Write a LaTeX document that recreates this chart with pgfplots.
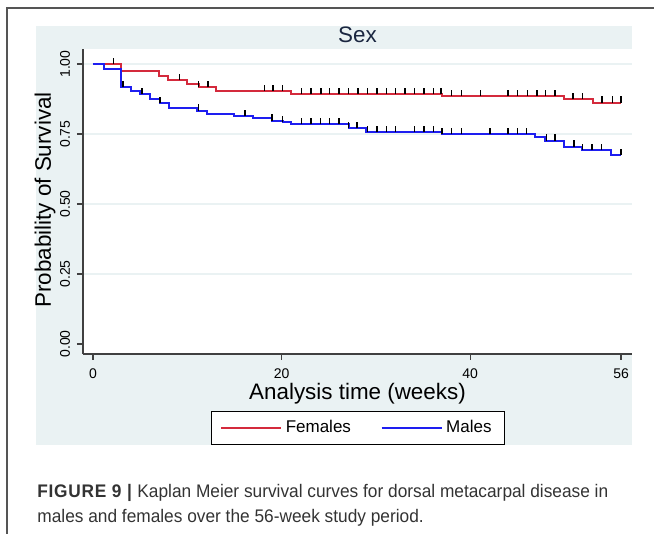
\documentclass[border=0pt]{standalone}
\usepackage{fontspec}
\setmainfont{Liberation Sans}
\newfontfamily\capfont[FakeStretch=0.95]{Liberation Sans}
\usepackage{pgfplots}
\pgfplotsset{compat=1.18}

\definecolor{bgreg}{HTML}{EAF2F3}
\definecolor{kmred}{HTML}{D42A3C}
\definecolor{kmblue}{HTML}{1E1EF0}
\definecolor{framegray}{HTML}{555555}
\definecolor{capgray}{HTML}{333333}
\definecolor{titlecol}{HTML}{1A2640}

% censoring tick: short vertical stroke above the curve
\pgfdeclareplotmark{cens}{%
  \pgfpathmoveto{\pgfpointorigin}%
  \pgfpathlineto{\pgfpoint{0pt}{3.2pt}}%
  \pgfusepathqstroke}

\begin{document}
\begin{tikzpicture}
\begin{scope}[x=0.5pt,y=0.5pt]
  \path[use as bounding box] (0,0) rectangle (654,534);
  \draw[framegray, line width=0.8pt] (7,0) -- (7,526) -- (654,526);
  \fill[bgreg] (36,89) rectangle (632,508);
  \node[anchor=base west, text=capgray, font=\capfont\fontsize{9.1}{10}\selectfont, inner sep=0pt]
    at (37,36) {{\addfontfeature{LetterSpace=4}\textbf{FIGURE 9 |}} Kaplan Meier survival curves for dorsal metacarpal disease in};
  \node[anchor=base west, text=capgray, font=\capfont\fontsize{9.1}{10}\selectfont, inner sep=0pt]
    at (37,11) {males and females over the 56-week study period.};
\end{scope}

\begin{axis}[
  at={(41.5pt,90pt)}, anchor=south west,
  scale only axis, width=274.5pt, height=152.5pt,
  xmin=-1.06, xmax=57.16, ymin=-0.036, ymax=1.054,
  axis background/.style={fill=white},
  axis x line*=bottom, axis y line*=left,
  axis line style={-, black!75, line width=0.6pt},
  tick align=outside, major tick length=3pt,
  tick style={black!75, line width=0.6pt},
  xtick={0,20,40,56}, xticklabels={0,20,40,56},
  ytick={0.25,0.5,0.75,1}, yticklabels={0.25,0.50,0.75,1.00},
  extra y ticks={0}, extra y tick labels={0.00},
  extra y tick style={grid=none},
  ymajorgrids, grid style={bgreg, line width=0.6pt},
  tick label style={font=\fontsize{7}{8}\selectfont},
  yticklabel style={rotate=90, anchor=south},
  xticklabel style={yshift=-1pt},
  xlabel={Analysis time (weeks)},
  xlabel style={at={(axis description cs:0.5,-0.131)}, anchor=center,
                font=\fontsize{11.2}{13}\selectfont},
  ylabel={Probability of Survival},
  ylabel style={at={(axis description cs:-0.0692,0.505)}, anchor=center,
                font=\fontsize{11.2}{13}\selectfont},
  title={Sex},
  every axis title shift=0pt,
  title style={at={(axis description cs:0.5,1.046)}, anchor=center,
               text=titlecol, font=\fontsize{11.2}{13}\selectfont},
  legend style={at={(axis description cs:0.501,-0.2426)}, anchor=center,
                legend columns=2, draw=black, line width=0.5pt, fill=white,
                font=\fontsize{8.5}{10}\selectfont,
                inner xsep=4.5pt, inner ysep=2.5pt,
                /tikz/every even column/.append style={column sep=13pt}},
  legend image code/.code={\draw[#1, line width=0.6pt] (0pt,0pt) -- (30pt,0pt);},
]

\addplot[kmred, line width=1pt, const plot] coordinates {
  (0,1.000) (3.0,0.975) (7.0,0.957) (8.0,0.943) (10.0,0.929) (11.2,0.917)
  (13.0,0.904) (21.0,0.893) (37.0,0.886) (50.0,0.874) (53.0,0.862) (56.0,0.862)};
\addlegendentry{Females}

\addplot[kmblue, line width=1pt, const plot] coordinates {
  (0,1.000) (1.2,0.982) (3.0,0.917) (4.0,0.905) (5.0,0.893) (6.0,0.877)
  (7.1,0.860) (8.1,0.843) (11.0,0.833) (12.1,0.823) (15.0,0.814) (17.0,0.807)
  (19.0,0.798) (20.1,0.792) (21.0,0.785) (27.1,0.770) (29.0,0.756) (37.0,0.749)
  (46.9,0.738) (47.9,0.726) (49.9,0.705) (51.9,0.693) (54.9,0.675) (56.0,0.675)};
\addlegendentry{Males}

% censored observations, females
\addplot[forget plot, only marks, mark=cens, black, line width=0.7pt] coordinates {
  (2.2,1.000) (9.2,0.943) (11.2,0.917) (12.2,0.917)
  (18.2,0.904) (19.1,0.904) (20.1,0.904)
  (22.1,0.893) (23.1,0.893) (24.2,0.893) (25.1,0.893) (26.1,0.893) (27.1,0.893)
  (28.1,0.893) (29.1,0.893) (30.1,0.893) (31.1,0.893) (32.1,0.893) (33.1,0.893)
  (34.1,0.893) (35.1,0.893) (36.1,0.893) (36.9,0.893)
  (38.0,0.886) (39.1,0.886) (41.1,0.886) (44.0,0.886) (45.0,0.886) (46.1,0.886)
  (47.1,0.886) (48.0,0.886) (49.0,0.886)
  (50.9,0.874) (51.9,0.874)
  (54.0,0.862) (55.1,0.862) (56.0,0.862)};

% censored observations, males
\addplot[forget plot, only marks, mark=cens, black, line width=0.7pt] coordinates {
  (3.2,0.917) (5.2,0.893) (7.1,0.860) (11.2,0.833) (16.1,0.814) (19.0,0.798)
  (20.1,0.792)
  (22.1,0.785) (23.1,0.785) (24.1,0.785) (25.1,0.785) (26.1,0.785)
  (27.1,0.770) (28.0,0.770)
  (29.1,0.756) (30.1,0.756) (31.1,0.756) (32.1,0.756) (34.1,0.756) (35.1,0.756)
  (36.1,0.756)
  (37.0,0.749) (38.0,0.749) (39.1,0.749) (42.1,0.749) (44.0,0.749) (45.0,0.749)
  (46.0,0.749)
  (48.1,0.726) (49.0,0.726) (51.0,0.705) (51.9,0.693) (52.9,0.693) (53.9,0.693)
  (56.0,0.675)};

\end{axis}
\end{tikzpicture}
\end{document}
